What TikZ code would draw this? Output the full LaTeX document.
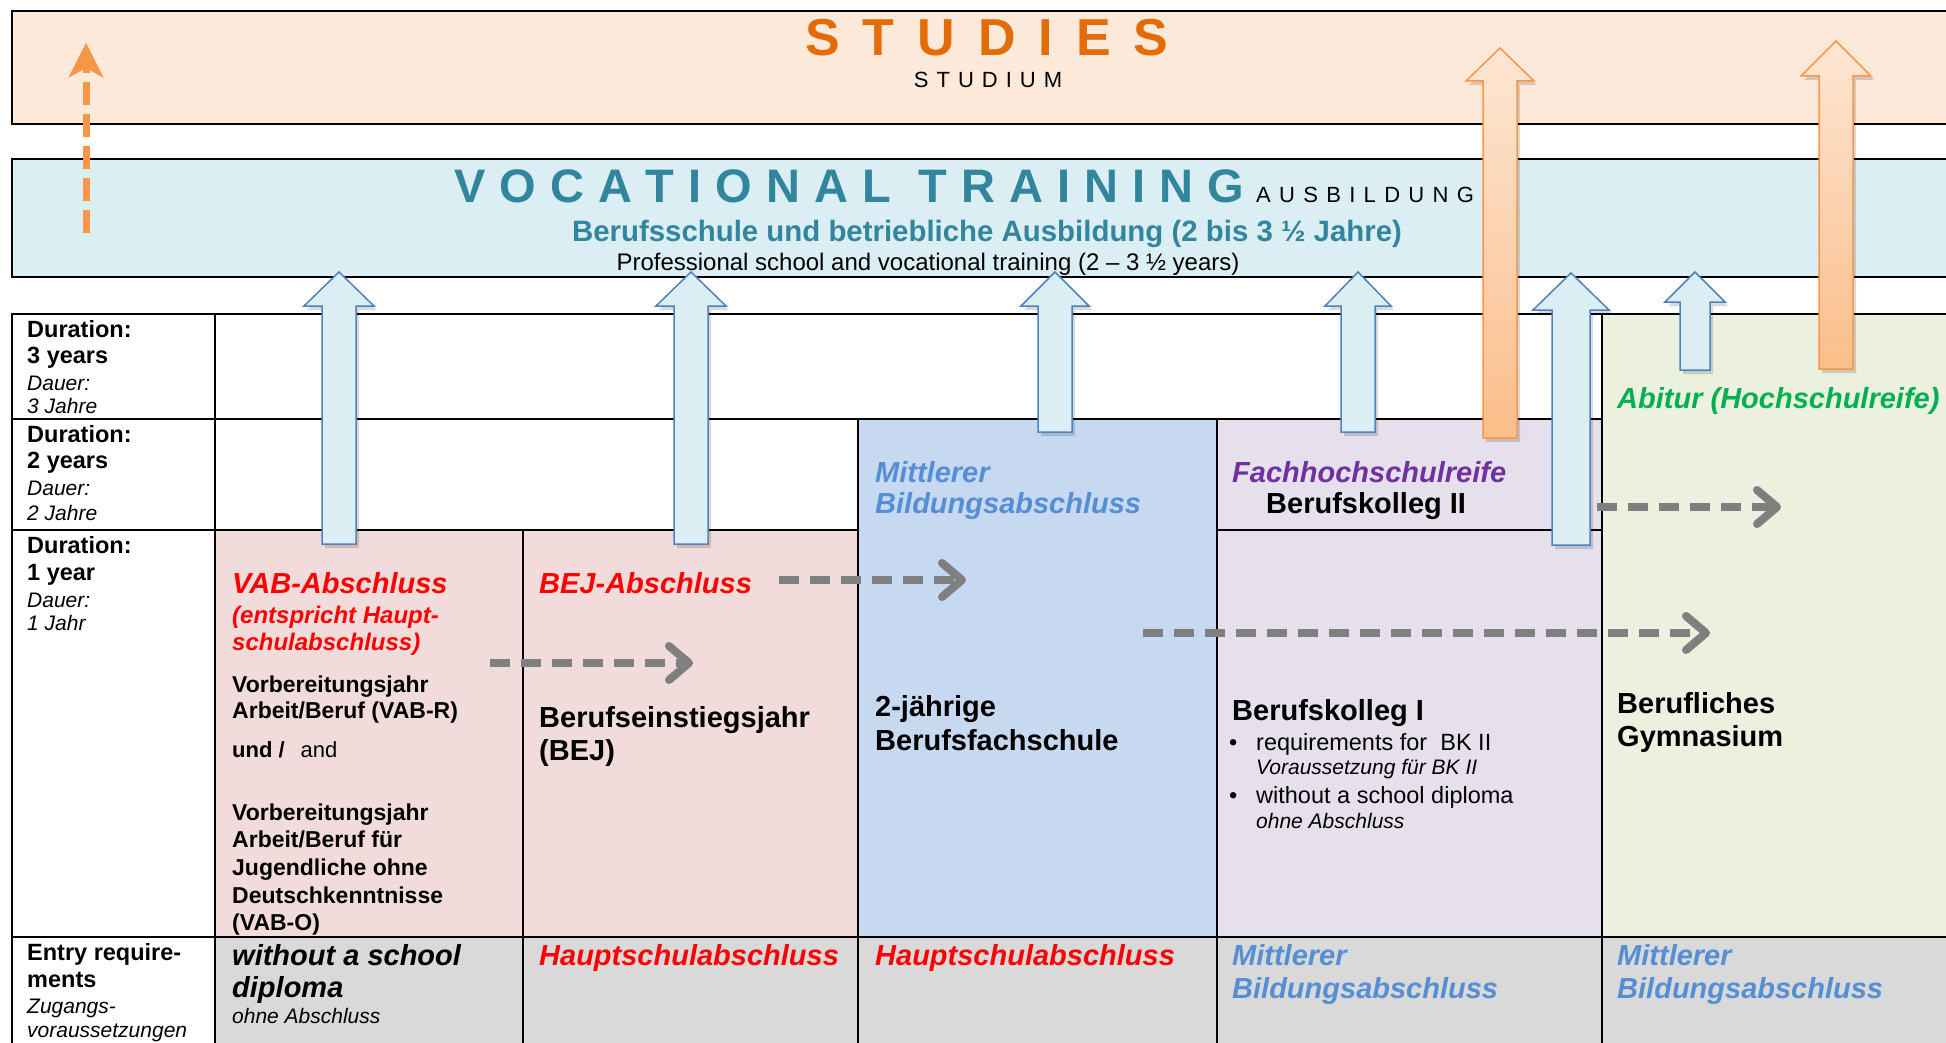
\documentclass[tikz,border=0pt]{standalone}
\usepackage{fontspec}
\setmainfont{Liberation Sans}
\usetikzlibrary{arrows.meta}
\definecolor{peach}{HTML}{FDE9D9}
\definecolor{lblue}{HTML}{DBEEF4}
\definecolor{pinkc}{HTML}{F2DCDB}
\definecolor{bluec}{HTML}{C6D9F1}
\definecolor{purc}{HTML}{E5E0EC}
\definecolor{greenc}{HTML}{EBF1DE}
\definecolor{grayc}{HTML}{D9D9D9}
\definecolor{tealT}{HTML}{31859C}
\definecolor{orangeT}{HTML}{E36C09}
\definecolor{redT}{HTML}{FF0000}
\definecolor{blueT}{HTML}{558ED5}
\definecolor{purT}{HTML}{7030A0}
\definecolor{greenT}{HTML}{00B050}
\definecolor{arrowgray}{HTML}{7F7F7F}
\definecolor{arrowblue}{HTML}{4F81BD}
\definecolor{arroworange}{HTML}{F79646}
\definecolor{orangelight}{HTML}{FDE6D4}
\definecolor{orangedark}{HTML}{FBBE8A}
\newcommand\fsz[1]{\fontsize{#1}{#1}\selectfont}
% x, tip y, head base y, bottom y, half shaft, half head, style
\newcommand\myarrow[7]{%
  \path[fill=black,opacity=0.15,shift={(3,4)}] (#1,#2) -- ({#1+#6},#3) -- ({#1+#5},#3) -- ({#1+#5},#4) -- ({#1-#5},#4) -- ({#1-#5},#3) -- ({#1-#6},#3) -- cycle;
  \path[#7] (#1,#2) -- ({#1+#6},#3) -- ({#1+#5},#3) -- ({#1+#5},#4) -- ({#1-#5},#4) -- ({#1-#5},#3) -- ({#1-#6},#3) -- cycle;}
\begin{document}
\begin{tikzpicture}[x=1pt,y=-1pt,
  t/.style={anchor=base west,inner sep=0pt},
  lb/.style={t,font=\fsz{23.5}\bfseries},
  li/.style={t,font=\fsz{21}\itshape},
  big/.style={t,font=\fsz{29}\bfseries},
  bigi/.style={t,font=\fsz{29}\bfseries\itshape},
  smi/.style={t,font=\fsz{24}\bfseries\itshape},
  mid/.style={t,font=\fsz{23}\bfseries},
  reg/.style={t,font=\fsz{23.5}},
  thick line/.style={line width=2.5pt,black},
  thin line/.style={line width=1.5pt,black},
  bluearrow/.style={fill=lblue,draw=arrowblue,line width=1.5pt},
  orangearrow/.style={top color=orangelight,bottom color=orangedark,draw=arroworange,line width=1.5pt},
  grayarrow/.style={draw=arrowgray,line width=8pt,dash pattern=on 20pt off 11pt,-{Straight Barb[length=20pt,width=34pt,round]}},
  grayshadow/.style={draw=black,opacity=0.12,line width=8pt,dash pattern=on 20pt off 11pt,-{Straight Barb[length=20pt,width=34pt,round]},shift={(3,5)}},
]
\useasboundingbox (0,0) rectangle (1946,1043);
\clip (0,0) rectangle (1946,1043);

% top boxes
\path[fill=peach,draw=black,line width=2.5pt] (12,11) rectangle (1970,124);
\path[fill=lblue,draw=black,line width=2.5pt] (12,159) rectangle (1970,277);

% cell fills
\fill[pinkc] (215,530) rectangle (858,937);
\fill[bluec] (858,419) rectangle (1217,937);
\fill[purc] (1217,419) rectangle (1602,937);
\fill[greenc] (1602,314) rectangle (1970,937);
\fill[grayc] (215,937) rectangle (1970,1060);

% table lines
\draw[thick line] (12,314) -- (1970,314);
\draw[thick line] (12,419) -- (1602,419);
\draw[thick line] (12,530) -- (858,530);
\draw[thick line] (1217,530) -- (1602,530);
\draw[thick line] (12,937) -- (1970,937);
\draw[thick line] (12,313) -- (12,1060);
\draw[thin line] (215,314) -- (215,1060);
\draw[thin line] (523,530) -- (523,1060);
\draw[thin line] (858,419) -- (858,1060);
\draw[thin line] (1217,419) -- (1217,1060);
\draw[thin line] (1602,314) -- (1602,1060);

% titles
\node[anchor=base,inner sep=0pt,font=\fsz{52}\bfseries,text=orangeT] (studies) at (987,56) {\spaceskip=23pt S T U D I E S};
\node[anchor=base,inner sep=0pt,font=\fsz{22}] (studium) at (988,88) {\spaceskip=8pt S T U D I U M};
\node[t,font=\fsz{47}\bfseries,text=tealT] (voc) at (454,203) {\spaceskip=14pt V O C A T I O N A L\hspace{14pt} T R A I N I N G};
\node[t,font=\fsz{22}] (ausb) at (1256,203) {\spaceskip=8.3pt A U S B I L D U N G};
\node[anchor=base,inner sep=0pt,font=\fsz{29.4}\bfseries,text=tealT] (bs) at (987,241) {Berufsschule und betriebliche Ausbildung (2 bis 3 ½ Jahre)};
\node[anchor=base,inner sep=0pt,font=\fsz{24}] (prof) at (928,270) {Professional school and vocational training (2 – 3 ½ years)};

% label column
\node[lb] (d3a) at (27,337) {Duration:};
\node[lb] (d3b) at (27,363) {3 years};
\node[li] (d3c) at (27,390) {Dauer:};
\node[li] (d3d) at (27,413) {3 Jahre};
\node[lb] (d2a) at (27,442) {Duration:};
\node[lb] (d2b) at (27,468) {2 years};
\node[li] (d2c) at (27,495) {Dauer:};
\node[li] (d2d) at (27,520) {2 Jahre};
\node[lb] (d1a) at (27,553) {Duration:};
\node[lb] (d1b) at (27,580) {1 year};
\node[li] (d1c) at (27,607) {Dauer:};
\node[li] (d1d) at (27,630) {1 Jahr};
\node[lb] (era) at (27,960) {Entry require-};
\node[lb] (erb) at (27,987) {ments};
\node[li] (erc) at (27,1013) {Zugangs-};
\node[li] (erd) at (27,1037) {voraussetzungen};

% VAB column
\node[bigi,text=redT] (vab1) at (232,593) {VAB-Abschluss};
\node[smi,text=redT] (vab2) at (232,623) {(entspricht Haupt-};
\node[smi,text=redT] (vab3) at (232,650) {schulabschluss)};
\node[mid] (vab4) at (232,692) {Vorbereitungsjahr};
\node[mid] (vab5) at (232,718) {Arbeit/Beruf (VAB-R)};
\node[t,font=\fsz{22}] (vab6) at (232,757) {\bfseries und /\mdseries\hspace{16pt}and};
\node[mid] (vab7) at (232,820) {Vorbereitungsjahr};
\node[mid] (vab8) at (232,847) {Arbeit/Beruf für};
\node[mid] (vab9) at (232,875) {Jugendliche ohne};
\node[mid] (vab10) at (232,903) {Deutschkenntnisse};
\node[mid] (vab11) at (232,930) {(VAB-O)};

% BEJ column
\node[bigi,text=redT] (bej1) at (539,593) {BEJ-Abschluss};
\node[big] (bej2) at (539,727) {Berufseinstiegsjahr};
\node[big] (bej3) at (539,760) {(BEJ)};

% BFS column
\node[bigi,text=blueT] (bfs1) at (875,482) {Mittlerer};
\node[bigi,text=blueT] (bfs2) at (875,513) {Bildungsabschluss};
\node[big] (bfs3) at (875,716) {2-jährige};
\node[big] (bfs4) at (875,750) {Berufsfachschule};

% BK column
\node[bigi,text=purT] (bk1) at (1232,482) {Fachhochschulreife};
\node[big] (bk2) at (1266,513) {Berufskolleg II};
\node[big] (bk3) at (1232,720) {Berufskolleg I};
\node[reg] (bkb1) at (1229,750) {•};
\node[reg] (bk4) at (1256,750) {requirements for\ \ BK II};
\node[li] (bk5) at (1256,774) {Voraussetzung für BK II};
\node[reg] (bkb2) at (1229,803) {•};
\node[reg] (bk6) at (1256,803) {without a school diploma};
\node[li] (bk7) at (1256,828) {ohne Abschluss};

% Gymnasium column
\node[bigi,text=greenT] (g1) at (1617,408) {Abitur (Hochschulreife)};
\node[big] (g2) at (1617,713) {Berufliches};
\node[big] (g3) at (1617,746) {Gymnasium};

% entry requirements row
\node[bigi] (e1) at (232,965) {without a school};
\node[bigi] (e2) at (232,997) {diploma};
\node[li] (e3) at (232,1023) {ohne Abschluss};
\node[bigi,text=redT] (e4) at (539,965) {Hauptschulabschluss};
\node[bigi,text=redT] (e5) at (875,965) {Hauptschulabschluss};
\node[bigi,text=blueT] (e6) at (1232,965) {Mittlerer};
\node[bigi,text=blueT] (e7) at (1232,998) {Bildungsabschluss};
\node[bigi,text=blueT] (e8) at (1617,965) {Mittlerer};
\node[bigi,text=blueT] (e9) at (1617,998) {Bildungsabschluss};

% gray dashed arrows
\coordinate (a1) at (490,663); \coordinate (a2) at (693,663);
\coordinate (b1) at (779,580); \coordinate (b2) at (966,580);
\coordinate (c1) at (1143,633); \coordinate (c2) at (1710,633);
\coordinate (d1) at (1597,507); \coordinate (d2) at (1781,507);
\foreach \s/\e in {a1/a2,b1/b2,c1/c2,d1/d2}{
  \draw[grayshadow] (\s) -- (\e);
  \draw[grayarrow] (\s) -- (\e);
}

% orange dashed arrow on the left
\coordinate (o1) at (86,233); \coordinate (o2) at (86,43);
\draw[draw=black,opacity=0.12,line width=7pt,dash pattern=on 23pt off 9pt,-{Stealth[length=34pt,width=34pt,inset=9pt]},shift={(2,4)}] (o1) -- (o2);
\draw[draw=arroworange,line width=7pt,dash pattern=on 23pt off 9pt,-{Stealth[length=34pt,width=34pt,inset=9pt]}] (o1) -- (o2);

% orange block arrows
\myarrow{1500}{48}{81}{438}{17}{34}{orangearrow}
\myarrow{1836}{41}{76}{369}{17}{35}{orangearrow}

% blue block arrows
\myarrow{339}{272}{306}{544}{17}{35}{bluearrow}
\myarrow{691}{272}{306}{544}{17}{35}{bluearrow}
\myarrow{1055}{272}{306}{432}{17}{34}{bluearrow}
\myarrow{1358}{272}{306}{432}{17}{33}{bluearrow}
\myarrow{1571}{273}{310}{545}{19}{38}{bluearrow}
\myarrow{1695}{272}{302}{370}{15}{30}{bluearrow}
\end{tikzpicture}
\end{document}
